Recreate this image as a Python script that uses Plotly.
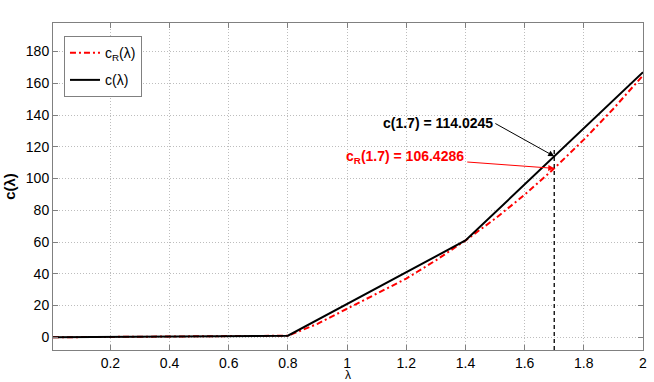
import plotly.graph_objects as go

# Data
lam_c = [0.006, 0.8, 1.4, 2.0]
c_vals = [0.0, 1.0, 61.0, 167.0]

lam_r = [0.006, 0.2, 0.4, 0.6, 0.8, 0.9, 1.0, 1.1, 1.2, 1.3, 1.4, 1.5, 1.6, 1.7, 1.8, 1.9, 2.0]
cr_vals = [0.0, 0.2, 0.4, 0.7, 1.0, 8.5, 18.0, 27.0, 37.0, 48.5, 61.0, 74.7, 89.8, 106.4286, 124.5, 144.0, 165.0]

lam_star = 1.7
c_star = 114.0245
cr_star = 106.4286
vline_y = [-8, 120]

xticks = [0.2, 0.4, 0.6, 0.8, 1.0, 1.2, 1.4, 1.6, 1.8, 2.0]
xticklabels = ["0.2", "0.4", "0.6", "0.8", "1", "1.2", "1.4", "1.6", "1.8", "2"]
yticks = [0, 20, 40, 60, 80, 100, 120, 140, 160, 180]

FONT = "Liberation Sans, Arial, Helvetica, sans-serif"

fig = go.Figure()
fig.add_trace(go.Scatter(x=lam_r, y=cr_vals, mode="lines", name="c<sub>R</sub>(λ)", legendgroup="a",
                         line=dict(color="#ff0000", width=2, dash="6px,3px,2px,3px")))
fig.add_trace(go.Scatter(x=lam_c, y=c_vals, mode="lines", name="c(λ)", legendgroup="b",
                         line=dict(color="black", width=2)))
fig.add_trace(go.Scatter(x=[lam_star, lam_star], y=vline_y, mode="lines", showlegend=False,
                         line=dict(color="black", width=1.3, dash="4px,3px")))

# text labels
fig.add_annotation(x=1.306, y=135.2, text="<b>c(1.7) = 114.0245</b>", showarrow=False,
                   font=dict(family=FONT, size=14, color="black"))
fig.add_annotation(x=1.195, y=113.5, text="<b>c<sub>R</sub>(1.7) = 106.4286</b>", showarrow=False,
                   font=dict(family=FONT, size=14, color="red"))
# arrows
fig.add_annotation(x=lam_star, y=c_star, ax=1.496, ay=135.2, axref="x", ayref="y", text="",
                   showarrow=True, arrowhead=2, arrowsize=1.2, arrowwidth=1, arrowcolor="black")
fig.add_annotation(x=lam_star, y=cr_star, ax=1.401, ay=110.5, axref="x", ayref="y", text="",
                   showarrow=True, arrowhead=2, arrowsize=1.2, arrowwidth=1, arrowcolor="red")

axis_common = dict(showline=True, linecolor="#808080", linewidth=1, mirror="ticks",
                   ticks="inside", ticklen=5, tickcolor="#808080", automargin=False,
                   showgrid=True, gridcolor="#bdbdbd", griddash="1px,2px", gridwidth=1,
                   zeroline=False, tickfont=dict(family=FONT, size=14, color="black"))

fig.update_xaxes(range=[0.006, 2], tickvals=xticks, ticktext=xticklabels,
                 title=dict(text="λ", font=dict(family=FONT, size=12, color="black"), standoff=2),
                 **axis_common)
fig.update_yaxes(range=[-8, 198], tickvals=yticks,
                 title=dict(text="<b>c(λ)</b>", font=dict(family=FONT, size=15, color="black"), standoff=6),
                 **axis_common)

fig.update_layout(width=654, height=382, margin=dict(l=53, r=11, t=23, b=32),
                  paper_bgcolor="white", plot_bgcolor="white",
                  legend=dict(x=0.0186, y=0.96, xanchor="left", yanchor="top",
                              bgcolor="white", bordercolor="#808080", borderwidth=1,
                              font=dict(family=FONT, size=14, color="black"),
                              itemwidth=30, tracegroupgap=6),
                  font=dict(family=FONT))

fig.write_html("out.html", config={"displayModeBar": False},
               post_script="document.body.style.margin='0';document.body.style.overflow='hidden';")
